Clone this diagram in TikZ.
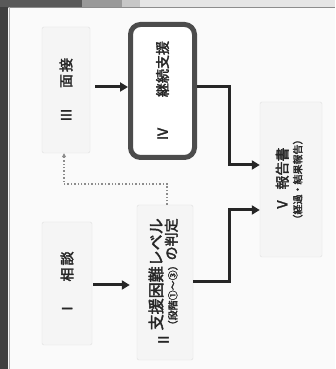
\documentclass[tikz,border=0pt]{standalone}
\usepackage{fontspec}
\usepackage{graphicx}
\newfontfamily\jp[AutoFakeBold=2.5]{Noto Sans CJK JP}
\usetikzlibrary{arrows.meta}
\begin{document}
\begin{tikzpicture}[x=1pt,y=1pt,
  box/.style={draw=black!12, fill=black!4, rounded corners=2pt, inner sep=0pt},
  strongbox/.style={draw=black!70, line width=5pt, fill=white, rounded corners=10pt, inner sep=0pt},
  conn/.style={line width=3pt, draw=black!85, -{Triangle[length=8pt,width=9pt]}},
  dotconn/.style={draw=black!45, line width=1.4pt, dotted, -{Triangle[length=4pt,width=4pt]}},
  txt/.style={font=\jp\bfseries\fontsize{14}{16}\selectfont, text=black!85}]
\useasboundingbox (0,0) rectangle (335,369);
\fill[black!2] (0,0) rectangle (335,369);
% scanned frame
\fill[black!75] (0,0) rectangle (8,369);
\fill[black!65] (0,362) rectangle (82,369);
\fill[black!40] (82,362) rectangle (122,369);
\fill[black!22] (122,362) rectangle (140,369);
\fill[black!10] (140,362) rectangle (335,369);
\draw[black!45, line width=1pt] (8,361.5) -- (335,361.5);
\draw[black!30, line width=0.8pt] (9,0) -- (9,361.5);
% nodes
\node[box, txt, minimum width=48, minimum height=126] (n3) at (66,279)
  {\rotatebox{90}{Ⅲ\hspace{20pt}面\hspace{2pt}接}};
\node[strongbox, txt, minimum width=64, minimum height=133] (n4) at (162.5,278)
  {\rotatebox{90}{Ⅳ\hspace{30pt}継続支援}};
\node[box, txt, minimum width=50, minimum height=123] (n1) at (67,85.5)
  {\rotatebox{90}{Ⅰ\hspace{20pt}相\hspace{2pt}談}};
\node[box, txt, minimum width=56, minimum height=155] (n2) at (165,86.5)
  {\rotatebox{90}{Ⅱ\,\begin{tabular}{@{}l@{}}{\fontsize{16}{18}\selectfont 支援困難レベル}\\[-2pt]{\fontsize{10}{11}\selectfont（段階①〜③）}の判定\end{tabular}}};
\node[box, txt, minimum width=62, minimum height=155] (n5) at (291,189.5)
  {\rotatebox{90}{\begin{tabular}{@{}c@{}}Ⅴ\hspace{8pt}報告書\\[-2pt]{\fontsize{10}{11}\selectfont（経過・結果報告）}\end{tabular}}};
% connectors
\coordinate (j1) at (229,0);
\coordinate (dk) at (64,185);
\draw[conn, shorten <=5pt] ([yshift=3]n3.east) -- ([yshift=3]n3.east -| n4.west);
\draw[conn, shorten <=1pt, shorten >=7pt] ([yshift=-1.5]n1.east) -- ([yshift=-1.5]n1.east -| n2.west);
\draw[conn] ([yshift=4]n4.east) -- ([yshift=4]n4.east -| j1) |- ([yshift=14.5]n5.west);
\draw[conn] ([yshift=0.5]n2.east) -- ([yshift=0.5]n2.east -| j1) |- ([yshift=-30.5]n5.west);
\draw[dotconn] ([xshift=2]n2.north) |- (dk) -- ([xshift=-2]n3.south);
\end{tikzpicture}
\end{document}
